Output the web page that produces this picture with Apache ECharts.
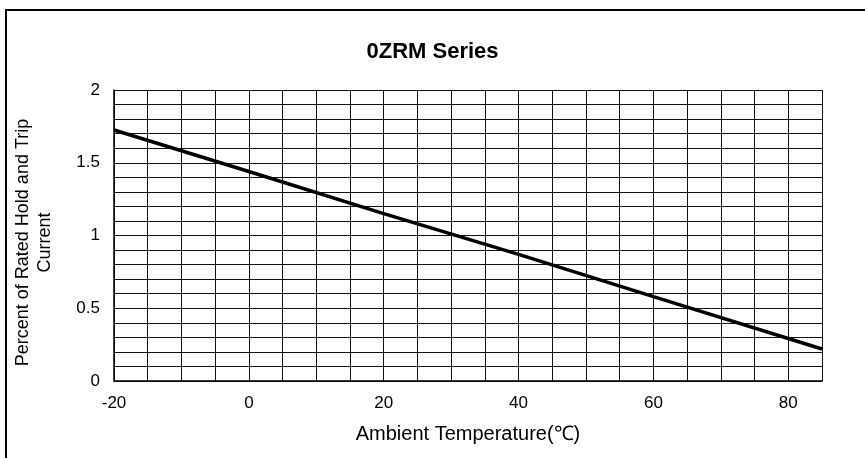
<!DOCTYPE html>
<html>
<head>
<meta charset="utf-8">
<script src="https://cdn.jsdelivr.net/npm/echarts@6/dist/echarts.min.js"></script>
<style>
	html, body { margin: 0; padding: 0; background: #fff; }
	#grafica { width: 865px; height: 458px; }
</style>
</head>
<body>
<div id="grafica"></div>
<script>
// Chart data
let temperaturas = [-20, 0, 20, 40, 60, 85];
let corriente = [1.725, 1.44, 1.15, 0.87, 0.58, 0.22];
let etiquetasX = [-20, 0, 20, 40, 60, 80];
let etiquetasY = [0, 0.5, 1, 1.5, 2];

function enLista(lista, v) {
	return lista.some(function (x) { return Math.abs(x - v) < 1e-6; });
}

var elemento = echarts.init(document.getElementById('grafica'));

var fuente = '"Liberation Sans", Arial, sans-serif';

var option = {
	animation: false,
	backgroundColor: '#fff',
	textStyle: { fontFamily: fuente, color: '#000' },

	title: {
		text: '0ZRM Series',
		left: 'center',
		top: 36,
		textStyle: { fontFamily: fuente, fontSize: 22, fontWeight: 'bold', color: '#000' }
	},

	// Outer frame
	graphic: [{
		type: 'rect',
		shape: { x: 6, y: 10, width: 870, height: 470 },
		style: { fill: 'none', stroke: '#000', lineWidth: 2 },
		silent: true
	}],

	grid: { left: 114, right: 43, top: 90, bottom: 77 },

	xAxis: {
		type: 'value',
		min: -20,
		max: 85,
		interval: 5,
		name: 'Ambient Temperature(℃)',
		nameLocation: 'middle',
		nameGap: 43,
		nameTextStyle: { fontFamily: fuente, fontSize: 20, color: '#000' },
		axisLine: { show: true, onZero: false, lineStyle: { color: '#000', width: 1.5 } },
		axisTick: { show: false },
		axisLabel: {
			margin: 14,
			fontSize: 17,
			color: '#000',
			formatter: function (v) { return enLista(etiquetasX, v) ? String(Math.round(v)) : ''; }
		},
		splitLine: { show: true, lineStyle: { color: '#111', width: 1 } }
	},

	yAxis: {
		type: 'value',
		min: 0,
		max: 2,
		interval: 0.1,
		name: 'Percent of Rated Hold and Trip\nCurrent',
		nameLocation: 'middle',
		nameGap: 58,
		nameTextStyle: { fontFamily: fuente, fontSize: 18, color: '#000', lineHeight: 22, padding: [0, 14, 0, 0] },
		axisLine: { show: true, onZero: false, lineStyle: { color: '#000', width: 1.5 } },
		axisTick: { show: false },
		axisLabel: {
			margin: 14,
			fontSize: 17,
			color: '#000',
			formatter: function (v) {
				if (!enLista(etiquetasY, v)) return '';
				return String(Math.round(v * 10) / 10);
			}
		},
		splitLine: { show: true, lineStyle: { color: '#111', width: 1 } }
	},

	series: [{
		type: 'line',
		data: temperaturas.map(function (t, i) { return [t, corriente[i]]; }),
		showSymbol: false,
		lineStyle: { color: '#000', width: 3.5 },
		silent: true
	}]
};

elemento.setOption(option);
</script>
</body>
</html>
